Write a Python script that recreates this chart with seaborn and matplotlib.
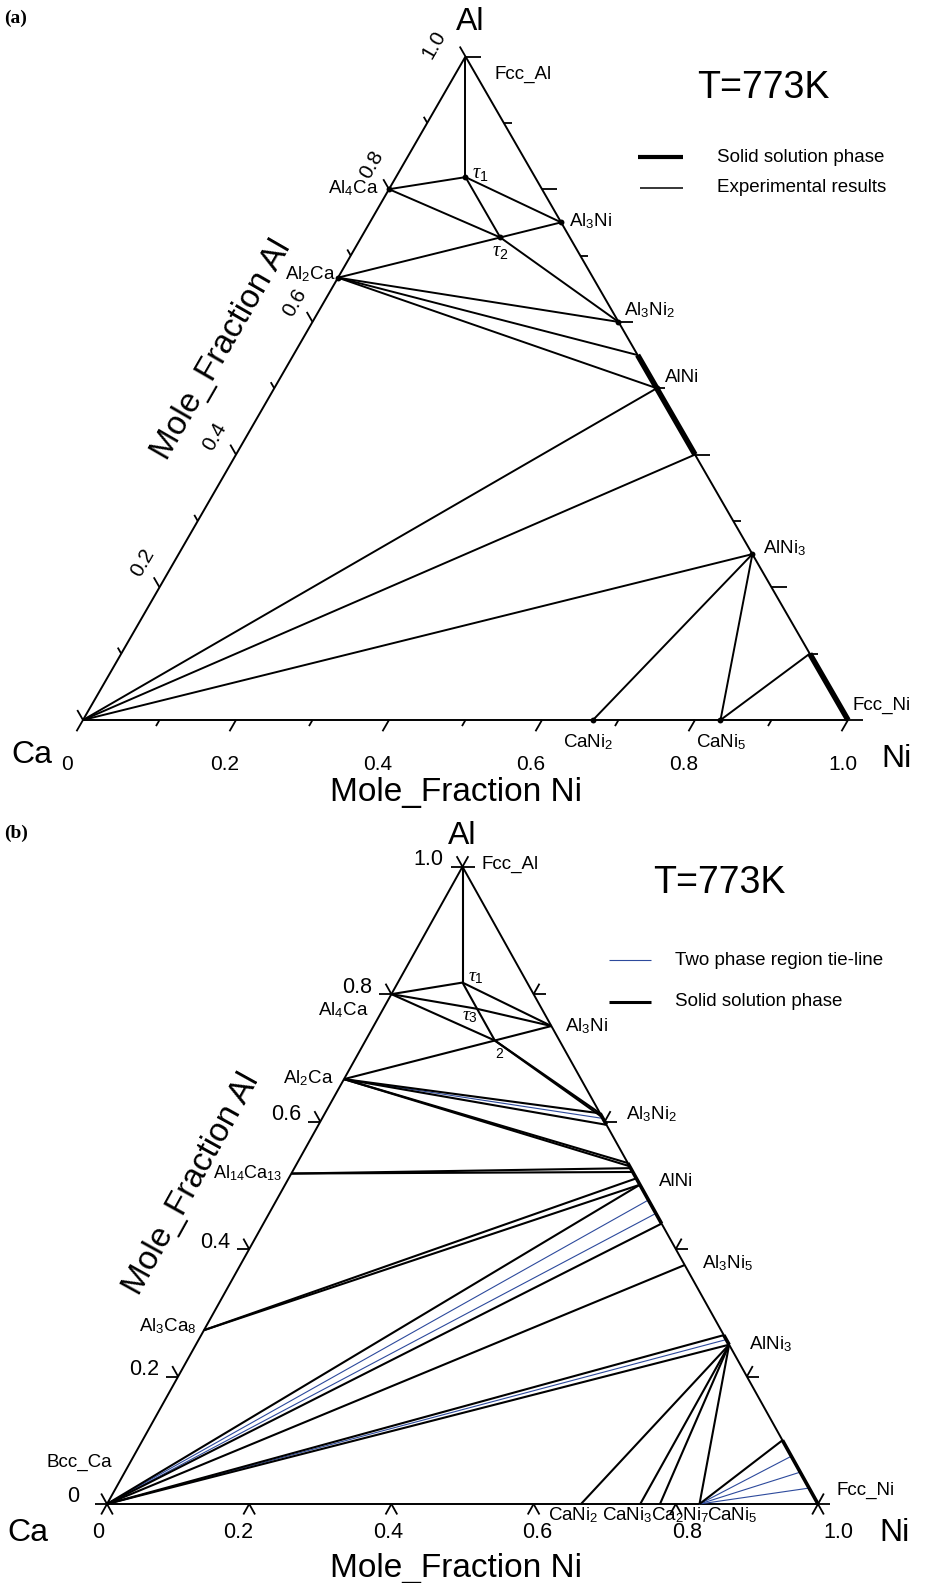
import re
import numpy as np
import pandas as pd
import matplotlib
matplotlib.use("Agg")
import matplotlib.pyplot as plt
import seaborn as sns

FIG_W, FIG_H = 931, 1583

# ---------------------------------------------------------------------------
# Compositions are (x_Ni, x_Al); x_Ca = 1 - x_Ni - x_Al
# ---------------------------------------------------------------------------
CA = (0.0, 0.0)
NI = (1.0, 0.0)
FCC_AL = (0.0, 1.0)
AL4CA = (0.0, 0.80)
AL2CA = (0.0, 2 / 3)
AL14CA13 = (0.0, 14 / 27)
AL3CA8 = (0.0, 3 / 11)
TAU1 = (1 / 11, 9 / 11)      # Al9CaNi
TAU2 = (2 / 11, 8 / 11)      # Al8CaNi2
TAU3 = (0.132, 0.777)
AL3NI = (0.25, 0.75)
CANI2 = (2 / 3, 0.0)
CANI3 = (0.75, 0.0)
CA2NI7 = (7 / 9, 0.0)
CANI5 = (5 / 6, 0.0)


def al_ni(al):
    """Point on the Al-Ni binary edge with the given Al fraction."""
    return (1.0 - al, al)


# (a) experimental section: Al content of the Al-Ni edge phases
AL3NI2_A = 0.60
ALNI_A = [0.55, 0.50, 0.40]          # upper limit, AlNi, lower limit
ALNI3_A = 0.25
FCCNI_A = 0.10

# (b) calculated section: Al content of tie-line ends on the Al-Ni edge
TAU2_TO_AL3NI2 = [0.613, 0.607]
AL3NI2_B = [0.613, 0.605, 0.595]
AL3NI2_B_KIND = ["k", "b", "k"]
ALNI_FROM_AL2CA = [0.535, 0.530]
ALNI_FROM_AL14CA13 = [0.527, 0.521]
ALNI_FROM_AL3CA8 = [0.511, 0.501]
ALNI_FROM_CA = [0.501, 0.477, 0.456, 0.440]
ALNI_FROM_CA_KIND = ["k", "b", "b", "k"]
AL3NI5_B = 0.375
ALNI3_FROM_CA = [0.265, 0.258, 0.250]
ALNI3_FROM_CA_KIND = ["k", "b", "k"]
ALNI3_B = 0.250
FCCNI_FROM_CANI5 = [0.100, 0.075, 0.050, 0.025]
FCCNI_FROM_CANI5_KIND = ["k", "b", "b", "b"]

TICKS_A = [round(0.1 * i, 1) for i in range(11)]
TICKS_B = [0.0, 0.2, 0.4, 0.6, 0.8, 1.0]
TICK_TEXT = ["0", "0.2", "0.4", "0.6", "0.8", "1.0"]

BLUE = "#2d4a9c"

# ---------------------------------------------------------------------------
sns.set_theme(style="white")
plt.rcParams["font.family"] = ["Liberation Sans", "DejaVu Sans"]
plt.rcParams["text.color"] = "black"
plt.rcParams["mathtext.fontset"] = "custom"
plt.rcParams["mathtext.rm"] = "Liberation Sans"
plt.rcParams["mathtext.it"] = "Liberation Serif:italic"
plt.rcParams["mathtext.bf"] = "Liberation Sans:bold"


def to_xy(ni, al):
    return ni + al / 2.0, al


def chem(name):
    return re.sub(r"(\d+)", r"$_{\1}$", name)


def make_panel(fig, top_px, bottom_px, ca_px, ni_x, apex_y):
    x0, base = ca_px
    sx = ni_x - x0
    sy = base - apex_y
    ax = fig.add_axes([0, 1 - bottom_px / FIG_H, 1, (bottom_px - top_px) / FIG_H])
    lims = ((-x0 / sx, (FIG_W - x0) / sx),
            ((base - bottom_px) / sy, (base - top_px) / sy))
    return ax, (sx, sy), lims


def draw_segments(ax, segs, color, lw, z=2):
    rows = []
    for i, (p, q) in enumerate(segs):
        for c in (p, q):
            x, y = to_xy(*c)
            rows.append({"seg": i, "X": x, "Y": y})
    df = pd.DataFrame(rows)
    sns.lineplot(data=df, x="X", y="Y", units="seg", estimator=None,
                 sort=False, color=color, lw=lw, ax=ax, legend=False,
                 zorder=z, solid_capstyle="butt")


def tick(ax, scale, comp, d, length, lw=1.3):
    sx, sy = scale
    X, Y = to_xy(*comp)
    dX, dY = d[0] + d[1] / 2.0, d[1]
    f = length / np.hypot(dX * sx, dY * sy)
    ax.plot([X, X + dX * f], [Y, Y + dY * f], color="black", lw=lw,
            solid_capstyle="butt", zorder=3)


def label(ax, comp, text, dx, dy, ha="left", size=13.5, **kw):
    ax.annotate(text, xy=to_xy(*comp), xytext=(dx, dy),
                textcoords="offset pixels", ha=ha, va="center",
                fontsize=size, color="black", annotation_clip=False, **kw)


def ftext(fig, px, py, s, **kw):
    fig.text(px / FIG_W, 1 - py / FIG_H, s, color="black", **kw)


def legend_key(fig, x0, x1, py, color, lw):
    y = 1 - py / FIG_H
    fig.add_artist(plt.Line2D([x0 / FIG_W, x1 / FIG_W], [y, y], color=color,
                              lw=lw, solid_capstyle="butt"))


fig = plt.figure(figsize=(FIG_W / 100, FIG_H / 100), dpi=100)
FRAME = [(CA, NI), (NI, FCC_AL), (FCC_AL, CA)]

# ============================ panel (a) ====================================
ax, sc, lims = make_panel(fig, 0, 800, (83, 720), 848, 56.5)
draw_segments(ax, FRAME, "black", 1.4)
seg_a = [
    (FCC_AL, TAU1), (AL4CA, TAU1), (TAU1, AL3NI), (TAU1, TAU2),
    (AL4CA, TAU2), (TAU2, AL3NI), (AL2CA, TAU2), (TAU2, al_ni(AL3NI2_A)),
    (AL2CA, al_ni(AL3NI2_A)), (AL2CA, al_ni(ALNI_A[0])), (AL2CA, al_ni(ALNI_A[1])),
    (CA, al_ni(ALNI_A[1])), (CA, al_ni(ALNI_A[2])), (CA, al_ni(ALNI3_A)),
    (al_ni(ALNI3_A), CANI2), (al_ni(ALNI3_A), CANI5), (CANI5, al_ni(FCCNI_A)),
]
draw_segments(ax, seg_a, "black", 1.4)
draw_segments(ax, [(al_ni(ALNI_A[0]), al_ni(ALNI_A[2])), (al_ni(FCCNI_A), NI)],
              "black", 4.0, z=3)
dots = [TAU1, TAU2, AL4CA, AL2CA, AL3NI, al_ni(AL3NI2_A), al_ni(ALNI_A[1]),
        al_ni(ALNI3_A), CANI2, CANI5]
dx_, dy_ = zip(*[to_xy(*p) for p in dots])
sns.scatterplot(x=list(dx_), y=list(dy_), s=18, color="black", linewidth=0,
                ax=ax, zorder=5, legend=False)

for t in TICKS_A:
    major = round(t * 10) % 2 == 0
    tick(ax, sc, (t, 0.0), (0, -1), 13 if major else 7)       # Ni axis
    tick(ax, sc, (1 - t, t), (1, 0), 15 if major else 8)      # Al-Ni edge
    tick(ax, sc, (0.0, t), (-1, 1), 11.5 if major else 7)     # Ca-Al edge

bottom_shift_a = [-16, -11, -11, -11, -11, -5]
for t, s, sh in zip(TICKS_B, TICK_TEXT, bottom_shift_a):
    label(ax, (t, 0.0), s, sh, -45, ha="center", size=15)
left_shift_a = [None, (-17, 25), (-21, 18), (-18, 19), (-17, 25), (-32, 11.5)]
for t, s, sh in zip(TICKS_B, TICK_TEXT, left_shift_a):
    if sh is None:
        continue
    ax.annotate(s, xy=to_xy(0.0, t), xytext=sh, textcoords="offset pixels",
                ha="center", va="center", rotation=60, rotation_mode="anchor",
                fontsize=15, color="black", annotation_clip=False)

label(ax, FCC_AL, "Fcc_Al", 29, -18)
label(ax, TAU1, r"$\tau_1$", 7, 4, size=14.5)
label(ax, TAU2, r"$\tau_2$", 0, -14, ha="center", size=14.5)
label(ax, AL4CA, chem("Al4Ca"), -10, 1, ha="right")
label(ax, AL2CA, chem("Al2Ca"), -2, 4, ha="right")
label(ax, AL3NI, chem("Al3Ni"), 8, 1)
label(ax, al_ni(AL3NI2_A), chem("Al3Ni2"), 6, 12)
label(ax, al_ni(ALNI_A[1]), "AlNi", 8, 11)
label(ax, al_ni(ALNI3_A), chem("AlNi3"), 11, 6)
label(ax, NI, "Fcc_Ni", 5, 15)
label(ax, CANI2, chem("CaNi2"), -5, -22, ha="center")
label(ax, CANI5, chem("CaNi5"), 1, -22, ha="center")

label(ax, FCC_AL, "Al", 5, 35, ha="center", size=23)
label(ax, CA, "Ca", -51, -35, ha="center", size=23)
label(ax, NI, "Ni", 49, -39, ha="center", size=23)
ax.set_xlim(*lims[0])
ax.set_ylim(*lims[1])
ax.set_axis_off()

ftext(fig, 456, 793, "Mole_Fraction Ni", ha="center", va="center", fontsize=24)
ftext(fig, 222, 350, "Mole_Fraction Al", ha="center", va="center", fontsize=24,
      rotation=60, rotation_mode="anchor")
ftext(fig, 763, 88, "T=773K", ha="center", va="center", fontsize=27)
legend_key(fig, 638, 683, 157, "black", 3.0)
legend_key(fig, 640, 683, 188, "black", 1.1)
ftext(fig, 717, 157, "Solid solution phase", ha="left", va="center", fontsize=13.5)
ftext(fig, 717, 188, "Experimental results", ha="left", va="center", fontsize=13.5)
ftext(fig, 4, 18, "(a)", ha="left", va="center", fontsize=14,
      family="Liberation Serif", weight="bold")

# ============================ panel (b) ====================================
ax, sc, lims = make_panel(fig, 800, FIG_H, (107, 1504), 818, 866.7)
draw_segments(ax, FRAME, "black", 1.4)

black_b, blue_b = [], []
for p, q in [(FCC_AL, TAU1), (AL4CA, TAU1), (TAU1, AL3NI), (TAU1, TAU3),
             (TAU3, TAU2), (AL4CA, TAU3), (TAU3, AL3NI), (AL4CA, TAU2),
             (TAU2, AL3NI), (AL2CA, TAU2)]:
    black_b.append((p, q))
for al in TAU2_TO_AL3NI2:
    black_b.append((TAU2, al_ni(al)))


def add(src, als, kinds=None):
    kinds = kinds or ["k"] * len(als)
    for al, k in zip(als, kinds):
        (black_b if k == "k" else blue_b).append((src, al_ni(al)))


add(AL2CA, AL3NI2_B, AL3NI2_B_KIND)
add(AL2CA, ALNI_FROM_AL2CA)
add(AL14CA13, ALNI_FROM_AL14CA13)
add(AL3CA8, ALNI_FROM_AL3CA8)
add(CA, ALNI_FROM_CA, ALNI_FROM_CA_KIND)
add(CA, [AL3NI5_B])
add(CA, ALNI3_FROM_CA, ALNI3_FROM_CA_KIND)
add(CANI5, FCCNI_FROM_CANI5, FCCNI_FROM_CANI5_KIND)
for p in [CANI2, CANI3, CA2NI7, CANI5]:
    black_b.append((al_ni(ALNI3_B), p))

draw_segments(ax, blue_b, BLUE, 0.8)
draw_segments(ax, black_b, "black", 1.5)
thick_b = [(al_ni(ALNI_FROM_AL2CA[0]), al_ni(ALNI_FROM_CA[-1])),
           (al_ni(AL3NI2_B[0]), al_ni(AL3NI2_B[-1])),
           (al_ni(ALNI3_FROM_CA[0]), al_ni(ALNI3_FROM_CA[-1])),
           (al_ni(FCCNI_FROM_CANI5[0]), NI)]
draw_segments(ax, thick_b, "black", 2.6, z=3)

for t in TICKS_B:
    tick(ax, sc, (t, 0.0), (0, -1), 12)
    tick(ax, sc, (t, 0.0), (1, -1), 12)
    tick(ax, sc, (1 - t, t), (1, 0), 12)
    tick(ax, sc, (1 - t, t), (0, 1), 12)
    tick(ax, sc, (0.0, t), (-1, 0), 12)
    tick(ax, sc, (0.0, t), (-1, 1), 12)

bottom_shift_b = [-9, -11, -3.5, 3.5, 11, 20]
for t, s, sh in zip(TICKS_B, TICK_TEXT, bottom_shift_b):
    label(ax, (t, 0.0), s, sh, -29, ha="center", size=15.5)
for t, s in zip(TICKS_B, TICK_TEXT):
    label(ax, (0.0, t), s, -28 if t == 0 else -19, 7, ha="right", size=15.5)

label(ax, FCC_AL, "Fcc_Al", 19, 2)
label(ax, TAU1, r"$\tau_1$", 5, 5, size=14)
label(ax, TAU3, r"$\tau_3$", -7, -8, ha="center", size=14)
label(ax, TAU2, "2", 4, -13, ha="center", size=10)
label(ax, AL4CA, chem("Al4Ca"), -23, -16, ha="right")
label(ax, AL3NI, chem("Al3Ni"), 14, 0)
label(ax, AL2CA, chem("Al2Ca"), -10, 1, ha="right")
label(ax, AL14CA13, chem("Al14Ca13"), -9, 0, ha="right", size=13)
label(ax, AL3CA8, chem("Al3Ca8"), -7, 4, ha="right")
label(ax, CA, "Bcc_Ca", -28, 42, ha="center")
label(ax, al_ni(0.6), chem("Al3Ni2"), 21, 7)
label(ax, al_ni(0.5), "AlNi", 19, 4)
label(ax, al_ni(AL3NI5_B), chem("Al3Ni5"), 17, 2)
label(ax, al_ni(ALNI3_B), chem("AlNi3"), 20, 1)
label(ax, NI, "Fcc_Ni", 18, 14)
label(ax, CANI2, chem("CaNi2"), -33, -11)
label(ax, CANI3, chem("CaNi3"), -38.5, -11)
label(ax, CA2NI7, chem("Ca2Ni7"), -9.3, -11)
label(ax, CANI5, chem("CaNi5"), 7.2, -11)

label(ax, FCC_AL, "Al", 0, 31, ha="center", size=23)
label(ax, CA, "Ca", -79, -29, ha="center", size=23)
label(ax, NI, "Ni", 76, -29, ha="center", size=23)
ax.set_xlim(*lims[0])
ax.set_ylim(*lims[1])
ax.set_axis_off()

ftext(fig, 456, 1568, "Mole_Fraction Ni", ha="center", va="center", fontsize=24)
ftext(fig, 192, 1184, "Mole_Fraction Al", ha="center", va="center", fontsize=24,
      rotation=61, rotation_mode="anchor")
ftext(fig, 719, 883, "T=773K", ha="center", va="center", fontsize=27)
legend_key(fig, 609, 651, 960, BLUE, 0.8)
legend_key(fig, 609, 651, 1002, "black", 2.2)
ftext(fig, 675, 960, "Two phase region tie-line", ha="left", va="center", fontsize=13.5)
ftext(fig, 675, 1002, "Solid solution phase", ha="left", va="center", fontsize=13.5)
ftext(fig, 4, 833, "(b)", ha="left", va="center", fontsize=14,
      family="Liberation Serif", weight="bold")

fig.savefig("out.png", dpi=100, facecolor="white")
